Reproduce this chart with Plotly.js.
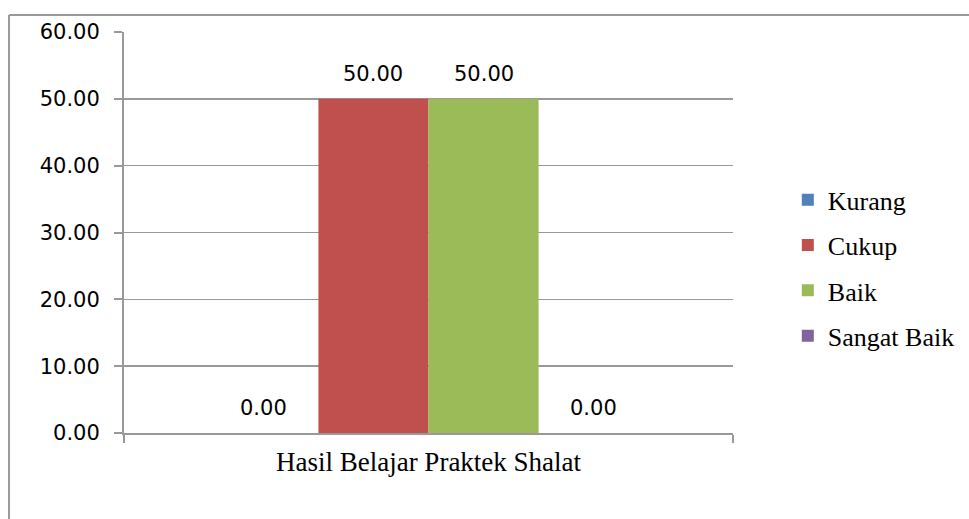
<!DOCTYPE html>
<html>
<head>
<meta charset="utf-8">
<script src="https://cdn.plot.ly/plotly-3.0.1.min.js"></script>
<style>
html,body{margin:0;padding:0;background:#fff;}
#chart{width:969px;height:519px;}
</style>
</head>
<body>
<div id="chart"></div>
<script>
const categories = ["Hasil Belajar Praktek Shalat"];
const seriesNames = ["Kurang", "Cukup", "Baik", "Sangat Baik"];
const kurang = [0];
const cukup = [50];
const baik = [50];
const sangatBaik = [0];
const seriesValues = [kurang, cukup, baik, sangatBaik];
const colors = ["#4F81BD", "#C0504D", "#9BBB59", "#8064A2"];

const W = 969, H = 519;
const margin = {l: 124, r: 236, t: 32, b: 86, autoexpand: false};
const bargap = 0.277;
const plotW = W - margin.l - margin.r;
const barW = plotW * (1 - bargap) / seriesNames.length;

const traces = seriesNames.map((name, i) => ({
  type: "bar",
  name: name,
  x: categories,
  y: seriesValues[i],
  marker: {color: colors[i]},
  legendgroup: "g" + i,
  hoverinfo: "none"
}));

const annotations = [];
seriesNames.forEach((name, i) => {
  categories.forEach((c, j) => {
    annotations.push({
      x: c, y: seriesValues[i][j], xref: "x", yref: "y",
      text: seriesValues[i][j].toFixed(2),
      showarrow: false, xanchor: "center", yanchor: "bottom",
      xshift: (i - (seriesNames.length - 1) / 2) * barW,
      yshift: 11,
      font: {family: "DejaVu Sans", size: 21, color: "#000"}
    });
  });
});

const layout = {
  width: W,
  height: H,
  margin: margin,
  paper_bgcolor: "#fff",
  plot_bgcolor: "#fff",
  barmode: "group",
  bargap: bargap,
  bargroupgap: 0,
  showlegend: true,
  legend: {
    x: 1.09, y: 0.64, xanchor: "left", yanchor: "top",
    font: {family: "Liberation Serif", size: 26, color: "#000"},
    traceorder: "grouped",
    tracegroupgap: 8.5,
    itemwidth: 30,
    bgcolor: "rgba(0,0,0,0)"
  },
  xaxis: {
    type: "category",
    showline: true, linecolor: "#999", linewidth: 2,
    ticks: "outside", ticklen: 8, tickcolor: "#999", tickwidth: 2,
    tickson: "boundaries",
    showgrid: false,
    ticklabelstandoff: 4,
    tickfont: {family: "Liberation Serif", size: 27, color: "#000"}
  },
  yaxis: {
    range: [0, 60], dtick: 10, tick0: 0, tickformat: ".2f",
    showline: true, linecolor: "#999", linewidth: 2,
    ticks: "outside", ticklen: 8, tickcolor: "#999", tickwidth: 2,
    showgrid: true, gridcolor: "#999", gridwidth: 1.5,
    zeroline: false,
    ticklabelstandoff: 10,
    tickfont: {family: "DejaVu Sans", size: 21, color: "#000"}
  },
  annotations: annotations,
  shapes: [
    {type: "line", xref: "paper", yref: "paper", x0: -0.1888, x1: 1.4, y0: 1.0424, y1: 1.0424, line: {color: "#999", width: 2}},
    {type: "line", xref: "paper", yref: "paper", x0: -0.1888, x1: -0.1888, y0: 1.0424, y1: -0.25, line: {color: "#999", width: 2}}
  ]
};

Plotly.newPlot("chart", traces, layout, {staticPlot: true, displayModeBar: false});
</script>
</body>
</html>
